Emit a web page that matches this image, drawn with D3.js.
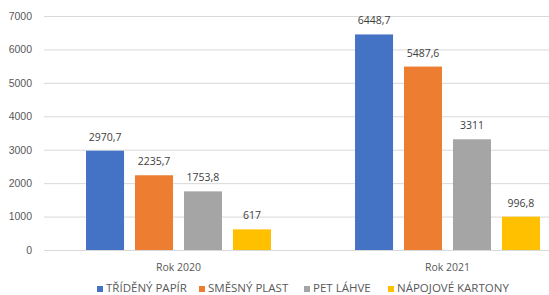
<!DOCTYPE html>
<html>
<head>
<meta charset="utf-8">
<script src="https://cdn.jsdelivr.net/npm/d3@7"></script>
<style>
  html, body { margin: 0; padding: 0; background: #fff; overflow: hidden; }
  svg { display: block; font-family: "Open Sans", "Noto Sans", sans-serif; }
</style>
</head>
<body>
<div id="chart"></div>
<script>
const years = ["Rok 2020", "Rok 2021"];
const series = ["TŘÍDĚNÝ PAPÍR", "SMĚSNÝ PLAST", "PET LÁHVE", "NÁPOJOVÉ KARTONY"];
const colors = ["#4472c4", "#ed7d31", "#a5a5a5", "#ffc000"];
const values2020 = [2970.7, 2235.7, 1753.8, 617];
const values2021 = [6448.7, 5487.6, 3311, 996.8];
const yTicks = [0, 1000, 2000, 3000, 4000, 5000, 6000, 7000];

const width = 549;
const height = 295;
const margin = { top: 16, right: -33, bottom: 45, left: 44 };

const rows = [values2020, values2021].map((vals, i) => ({
  year: years[i],
  items: vals.map((v, j) => ({ name: series[j], value: v, color: colors[j] })),
}));

const fmt = (v) => String(v).replace(".", ",");

const svg = d3
  .select("#chart")
  .append("svg")
  .attr("width", width)
  .attr("height", height);

const y = d3
  .scaleLinear()
  .domain([0, 7000])
  .range([height - margin.bottom, margin.top]);

const x0 = d3
  .scaleBand()
  .domain(years)
  .range([margin.left, width - margin.right])
  .paddingInner(0.3125)
  .paddingOuter(0.15625);

const x1 = d3
  .scaleBand()
  .domain(series)
  .range([0, x0.bandwidth()])
  .paddingInner(0.224);

// gridlines + tick labels
const yAxis = svg
  .append("g")
  .attr("transform", `translate(${margin.left}, 0)`)
  .call(
    d3.axisLeft(y)
      .tickValues(yTicks)
      .tickSize(-(width - margin.left))
      .tickPadding(12)
      .tickFormat(d3.format("d"))
  );
yAxis.select(".domain").remove();
yAxis.selectAll(".tick line").attr("stroke", "#d9d9d9");
yAxis
  .selectAll(".tick text")
  .attr("fill", "#595959")
  .style("font-size", "10.5px");

// bars
const groups = svg
  .selectAll(".group")
  .data(rows)
  .join("g")
  .attr("class", "group")
  .attr("transform", (d) => `translate(${x0(d.year)}, 0)`);

groups
  .selectAll("rect")
  .data((d) => d.items)
  .join("rect")
  .attr("x", (d) => x1(d.name))
  .attr("y", (d) => y(d.value))
  .attr("width", x1.bandwidth())
  .attr("height", (d) => y(0) - y(d.value))
  .attr("fill", (d) => d.color);

groups
  .selectAll(".lbl")
  .data((d) => d.items)
  .join("text")
  .attr("class", "lbl")
  .attr("x", (d) => x1(d.name) + x1.bandwidth() / 2)
  .attr("y", (d) => y(d.value) - 10)
  .attr("text-anchor", "middle")
  .attr("fill", "#404040")
  .style("font-size", "10.5px")
  .text((d) => fmt(d.value));

// category labels
svg
  .selectAll(".cat")
  .data(years)
  .join("text")
  .attr("class", "cat")
  .attr("x", (d) => x0(d) + x0.bandwidth() / 2)
  .attr("y", y(0) + 21)
  .attr("text-anchor", "middle")
  .attr("fill", "#595959")
  .style("font-size", "10.5px")
  .text((d) => d);

// legend
const legendX = [97, 199, 304, 388];
const legend = svg
  .selectAll(".legend")
  .data(series)
  .join("g")
  .attr("class", "legend")
  .attr("transform", (d, i) => `translate(${legendX[i]}, 286)`);

legend
  .append("rect")
  .attr("width", 6)
  .attr("height", 6)
  .attr("fill", (d, i) => colors[i]);

legend
  .append("text")
  .attr("x", 9)
  .attr("y", 6)
  .attr("fill", "#595959")
  .style("font-size", "11.5px")
  .text((d) => d);
</script>
</body>
</html>
